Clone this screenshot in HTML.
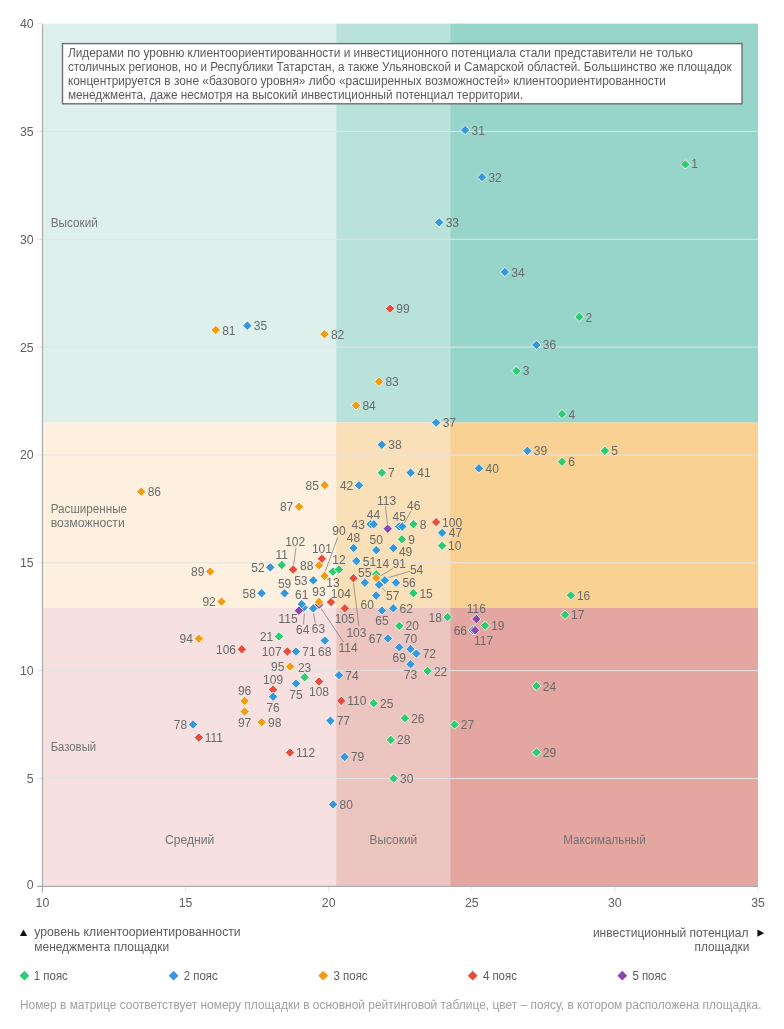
<!DOCTYPE html>
<html><head><meta charset="utf-8"><style>
html,body{margin:0;padding:0;background:#fff;width:784px;height:1029px;overflow:hidden}
svg{display:block;will-change:transform}
text{font-family:"Liberation Sans", sans-serif}
</style></head><body>
<svg width="784" height="1029" viewBox="0 0 784 1029">
<rect x="42.45" y="23.6" width="293.75" height="398.9" fill="#ddf0ec"/>
<rect x="336.2" y="23.6" width="114" height="398.9" fill="#b9e2da"/>
<rect x="450.2" y="23.6" width="307.8" height="398.9" fill="#97d4c9"/>
<rect x="42.45" y="422.5" width="293.75" height="185.3" fill="#fdf0df"/>
<rect x="336.2" y="422.5" width="114" height="185.3" fill="#fae0b8"/>
<rect x="450.2" y="422.5" width="307.8" height="185.3" fill="#f9d193"/>
<rect x="42.45" y="607.8" width="293.75" height="278.5" fill="#f6e0e0"/>
<rect x="336.2" y="607.8" width="114" height="278.5" fill="#ecc4c0"/>
<rect x="450.2" y="607.8" width="307.8" height="278.5" fill="#e3a6a0"/>
<line x1="42.45" x2="758" y1="778.46" y2="778.46" stroke="#e3e3e3" stroke-width="1"/>
<line x1="42.45" x2="758" y1="670.62" y2="670.62" stroke="#e3e3e3" stroke-width="1"/>
<line x1="42.45" x2="758" y1="562.79" y2="562.79" stroke="#e3e3e3" stroke-width="1"/>
<line x1="42.45" x2="758" y1="454.95" y2="454.95" stroke="#e3e3e3" stroke-width="1"/>
<line x1="42.45" x2="758" y1="347.11" y2="347.11" stroke="#e3e3e3" stroke-width="1"/>
<line x1="42.45" x2="758" y1="239.28" y2="239.28" stroke="#e3e3e3" stroke-width="1"/>
<line x1="42.45" x2="758" y1="131.44" y2="131.44" stroke="#e3e3e3" stroke-width="1"/>
<line x1="37" x2="42.45" y1="886.3" y2="886.3" stroke="#e3e3e3" stroke-width="1"/>
<text x="33.6" y="889.1" text-anchor="end" font-size="12.3" fill="#606060">0</text>
<line x1="37" x2="42.45" y1="778.46" y2="778.46" stroke="#e3e3e3" stroke-width="1"/>
<text x="33.6" y="782.86" text-anchor="end" font-size="12.3" fill="#606060">5</text>
<line x1="37" x2="42.45" y1="670.62" y2="670.62" stroke="#e3e3e3" stroke-width="1"/>
<text x="33.6" y="675.02" text-anchor="end" font-size="12.3" fill="#606060">10</text>
<line x1="37" x2="42.45" y1="562.79" y2="562.79" stroke="#e3e3e3" stroke-width="1"/>
<text x="33.6" y="567.19" text-anchor="end" font-size="12.3" fill="#606060">15</text>
<line x1="37" x2="42.45" y1="454.95" y2="454.95" stroke="#e3e3e3" stroke-width="1"/>
<text x="33.6" y="459.35" text-anchor="end" font-size="12.3" fill="#606060">20</text>
<line x1="37" x2="42.45" y1="347.11" y2="347.11" stroke="#e3e3e3" stroke-width="1"/>
<text x="33.6" y="351.51" text-anchor="end" font-size="12.3" fill="#606060">25</text>
<line x1="37" x2="42.45" y1="239.28" y2="239.28" stroke="#e3e3e3" stroke-width="1"/>
<text x="33.6" y="243.68" text-anchor="end" font-size="12.3" fill="#606060">30</text>
<line x1="37" x2="42.45" y1="131.44" y2="131.44" stroke="#e3e3e3" stroke-width="1"/>
<text x="33.6" y="135.84" text-anchor="end" font-size="12.3" fill="#606060">35</text>
<line x1="37" x2="42.45" y1="23.6" y2="23.6" stroke="#e3e3e3" stroke-width="1"/>
<text x="33.6" y="28" text-anchor="end" font-size="12.3" fill="#606060">40</text>
<line x1="42.45" x2="42.45" y1="886.3" y2="892.5" stroke="#e4e4e4" stroke-width="1"/>
<text x="42.45" y="907.2" text-anchor="middle" font-size="12.3" fill="#606060">10</text>
<line x1="185.56" x2="185.56" y1="886.3" y2="892.5" stroke="#e4e4e4" stroke-width="1"/>
<text x="185.56" y="907.2" text-anchor="middle" font-size="12.3" fill="#606060">15</text>
<line x1="328.67" x2="328.67" y1="886.3" y2="892.5" stroke="#e4e4e4" stroke-width="1"/>
<text x="328.67" y="907.2" text-anchor="middle" font-size="12.3" fill="#606060">20</text>
<line x1="471.78" x2="471.78" y1="886.3" y2="892.5" stroke="#e4e4e4" stroke-width="1"/>
<text x="471.78" y="907.2" text-anchor="middle" font-size="12.3" fill="#606060">25</text>
<line x1="614.89" x2="614.89" y1="886.3" y2="892.5" stroke="#e4e4e4" stroke-width="1"/>
<text x="614.89" y="907.2" text-anchor="middle" font-size="12.3" fill="#606060">30</text>
<line x1="758" x2="758" y1="886.3" y2="892.5" stroke="#e4e4e4" stroke-width="1"/>
<text x="758" y="907.2" text-anchor="middle" font-size="12.3" fill="#606060">35</text>
<line x1="42.45" x2="42.45" y1="24.2" y2="892.5" stroke="#adadad" stroke-width="1.25"/>
<line x1="37" x2="758" y1="886.3" y2="886.3" stroke="#adadad" stroke-width="1.25"/>
<text x="50.7" y="226.9" textLength="47.2" font-size="12.3" fill="#737373" lengthAdjust="spacingAndGlyphs">Высокий</text>
<text x="50.7" y="512.8" textLength="76.4" font-size="12.3" fill="#737373" lengthAdjust="spacingAndGlyphs">Расширенные</text>
<text x="50.7" y="526.6" textLength="74.1" font-size="12.3" fill="#737373" lengthAdjust="spacingAndGlyphs">возможности</text>
<text x="50.7" y="750.5" textLength="45.4" font-size="12.3" fill="#737373" lengthAdjust="spacingAndGlyphs">Базовый</text>
<text x="165.0" y="844.2" textLength="49.2" font-size="12.3" fill="#737373" lengthAdjust="spacingAndGlyphs">Средний</text>
<text x="369.5" y="844.2" textLength="47.7" font-size="12.3" fill="#737373" lengthAdjust="spacingAndGlyphs">Высокий</text>
<text x="563.3" y="844.2" textLength="82.4" font-size="12.3" fill="#737373" lengthAdjust="spacingAndGlyphs">Максимальный</text>
<rect x="62.5" y="43.6" width="679.5" height="60.2" fill="#fff" stroke="#6f6f6f" stroke-width="1.4"/>
<text x="67.9" y="56.5" textLength="624.9" lengthAdjust="spacingAndGlyphs" font-size="12.3" fill="#5a5a5a">Лидерами по уровню клиентоориентированности и инвестиционного потенциала стали представители не только</text>
<text x="67.9" y="70.67" textLength="663.7" lengthAdjust="spacingAndGlyphs" font-size="12.3" fill="#5a5a5a">столичных регионов, но и Республики Татарстан, а также Ульяновской и Самарской областей. Большинство же площадок</text>
<text x="67.9" y="84.84" textLength="598.0" lengthAdjust="spacingAndGlyphs" font-size="12.3" fill="#5a5a5a">концентрируется в зоне «базового уровня» либо «расширенных возможностей» клиентоориентированности</text>
<text x="67.9" y="99.01" textLength="455.3" lengthAdjust="spacingAndGlyphs" font-size="12.3" fill="#5a5a5a">менеджмента, даже несмотря на высокий инвестиционный потенциал территории.</text>
<line x1="385.6" y1="506.5" x2="387.4" y2="524.5" stroke="#777" stroke-width="0.7"/>
<line x1="411" y1="511" x2="404.3" y2="523.2" stroke="#777" stroke-width="0.7"/>
<line x1="296" y1="547.8" x2="293.6" y2="565" stroke="#777" stroke-width="0.7"/>
<line x1="325.4" y1="571.3" x2="337.6" y2="537.5" stroke="#777" stroke-width="0.7"/>
<line x1="353.5" y1="583.2" x2="358.9" y2="626" stroke="#777" stroke-width="0.7"/>
<line x1="380.5" y1="576" x2="392.8" y2="568.5" stroke="#777" stroke-width="0.7"/>
<line x1="388.5" y1="577.6" x2="410" y2="571.2" stroke="#777" stroke-width="0.7"/>
<line x1="382" y1="588" x2="385.6" y2="591.2" stroke="#777" stroke-width="0.7"/>
<line x1="321" y1="608.5" x2="343.5" y2="642" stroke="#777" stroke-width="0.7"/>
<line x1="304.4" y1="613.5" x2="303.5" y2="624.5" stroke="#777" stroke-width="0.7"/>
<line x1="313.5" y1="613.2" x2="315.4" y2="623.6" stroke="#777" stroke-width="0.7"/>
<polygon points="303.6,603.1 308.3,607.8 303.6,612.5 298.9,607.8" fill="#3498db" stroke="#fff" stroke-width="0.9" stroke-opacity="0.9"/>
<polygon points="370.6,519.5 375.3,524.2 370.6,528.9 365.9,524.2" fill="#3498db" stroke="#fff" stroke-width="0.9" stroke-opacity="0.9"/>
<polygon points="399.1,521.8 403.8,526.5 399.1,531.2 394.4,526.5" fill="#3498db" stroke="#fff" stroke-width="0.9" stroke-opacity="0.9"/>
<polygon points="376.2,569.5 380.9,574.2 376.2,578.9 371.5,574.2" fill="#2ecc71" stroke="#fff" stroke-width="0.9" stroke-opacity="0.9"/>
<polygon points="301.7,599.4 306.4,604.1 301.7,608.8 297,604.1" fill="#3498db" stroke="#fff" stroke-width="0.9" stroke-opacity="0.9"/>
<polygon points="472.8,625.5 477.5,630.2 472.8,634.9 468.1,630.2" fill="#3498db" stroke="#fff" stroke-width="0.9" stroke-opacity="0.9"/>
<polygon points="685.4,159.7 690.1,164.4 685.4,169.1 680.7,164.4" fill="#2ecc71" stroke="#fff" stroke-width="0.9" stroke-opacity="0.9"/>
<polygon points="579.2,312.3 583.9,317 579.2,321.7 574.5,317" fill="#2ecc71" stroke="#fff" stroke-width="0.9" stroke-opacity="0.9"/>
<polygon points="516.4,366.2 521.1,370.9 516.4,375.6 511.7,370.9" fill="#2ecc71" stroke="#fff" stroke-width="0.9" stroke-opacity="0.9"/>
<polygon points="562,409.3 566.7,414 562,418.7 557.3,414" fill="#2ecc71" stroke="#fff" stroke-width="0.9" stroke-opacity="0.9"/>
<polygon points="465.1,125.3 469.8,130 465.1,134.7 460.4,130" fill="#3498db" stroke="#fff" stroke-width="0.9" stroke-opacity="0.9"/>
<polygon points="482,172.4 486.7,177.1 482,181.8 477.3,177.1" fill="#3498db" stroke="#fff" stroke-width="0.9" stroke-opacity="0.9"/>
<polygon points="439.2,217.7 443.9,222.4 439.2,227.1 434.5,222.4" fill="#3498db" stroke="#fff" stroke-width="0.9" stroke-opacity="0.9"/>
<polygon points="504.9,267.3 509.6,272 504.9,276.7 500.2,272" fill="#3498db" stroke="#fff" stroke-width="0.9" stroke-opacity="0.9"/>
<polygon points="247.3,321 252,325.7 247.3,330.4 242.6,325.7" fill="#3498db" stroke="#fff" stroke-width="0.9" stroke-opacity="0.9"/>
<polygon points="536.3,340.2 541,344.9 536.3,349.6 531.6,344.9" fill="#3498db" stroke="#fff" stroke-width="0.9" stroke-opacity="0.9"/>
<polygon points="215.8,325.3 220.5,330 215.8,334.7 211.1,330" fill="#f39c12" stroke="#fff" stroke-width="0.9" stroke-opacity="0.9"/>
<polygon points="324.5,329.6 329.2,334.3 324.5,339 319.8,334.3" fill="#f39c12" stroke="#fff" stroke-width="0.9" stroke-opacity="0.9"/>
<polygon points="379,377 383.7,381.7 379,386.4 374.3,381.7" fill="#f39c12" stroke="#fff" stroke-width="0.9" stroke-opacity="0.9"/>
<polygon points="356,400.6 360.7,405.3 356,410 351.3,405.3" fill="#f39c12" stroke="#fff" stroke-width="0.9" stroke-opacity="0.9"/>
<polygon points="390,303.9 394.7,308.6 390,313.3 385.3,308.6" fill="#e74c3c" stroke="#fff" stroke-width="0.9" stroke-opacity="0.9"/>
<polygon points="436.2,417.9 440.9,422.6 436.2,427.3 431.5,422.6" fill="#3498db" stroke="#fff" stroke-width="0.9" stroke-opacity="0.9"/>
<polygon points="381.8,440 386.5,444.7 381.8,449.4 377.1,444.7" fill="#3498db" stroke="#fff" stroke-width="0.9" stroke-opacity="0.9"/>
<polygon points="527.4,446.1 532.1,450.8 527.4,455.5 522.7,450.8" fill="#3498db" stroke="#fff" stroke-width="0.9" stroke-opacity="0.9"/>
<polygon points="604.9,446.1 609.6,450.8 604.9,455.5 600.2,450.8" fill="#2ecc71" stroke="#fff" stroke-width="0.9" stroke-opacity="0.9"/>
<polygon points="562,457.1 566.7,461.8 562,466.5 557.3,461.8" fill="#2ecc71" stroke="#fff" stroke-width="0.9" stroke-opacity="0.9"/>
<polygon points="479,463.6 483.7,468.3 479,473 474.3,468.3" fill="#3498db" stroke="#fff" stroke-width="0.9" stroke-opacity="0.9"/>
<polygon points="381.8,468 386.5,472.7 381.8,477.4 377.1,472.7" fill="#2ecc71" stroke="#fff" stroke-width="0.9" stroke-opacity="0.9"/>
<polygon points="410.6,468 415.3,472.7 410.6,477.4 405.9,472.7" fill="#3498db" stroke="#fff" stroke-width="0.9" stroke-opacity="0.9"/>
<polygon points="359,480.6 363.7,485.3 359,490 354.3,485.3" fill="#3498db" stroke="#fff" stroke-width="0.9" stroke-opacity="0.9"/>
<polygon points="324.7,480.6 329.4,485.3 324.7,490 320,485.3" fill="#f39c12" stroke="#fff" stroke-width="0.9" stroke-opacity="0.9"/>
<polygon points="141.3,487 146,491.7 141.3,496.4 136.6,491.7" fill="#f39c12" stroke="#fff" stroke-width="0.9" stroke-opacity="0.9"/>
<polygon points="299,502 303.7,506.7 299,511.4 294.3,506.7" fill="#f39c12" stroke="#fff" stroke-width="0.9" stroke-opacity="0.9"/>
<polygon points="436.1,517.4 440.8,522.1 436.1,526.8 431.4,522.1" fill="#e74c3c" stroke="#fff" stroke-width="0.9" stroke-opacity="0.9"/>
<polygon points="442.1,528.2 446.8,532.9 442.1,537.6 437.4,532.9" fill="#3498db" stroke="#fff" stroke-width="0.9" stroke-opacity="0.9"/>
<polygon points="442.1,541 446.8,545.7 442.1,550.4 437.4,545.7" fill="#2ecc71" stroke="#fff" stroke-width="0.9" stroke-opacity="0.9"/>
<polygon points="413.4,519.5 418.1,524.2 413.4,528.9 408.7,524.2" fill="#2ecc71" stroke="#fff" stroke-width="0.9" stroke-opacity="0.9"/>
<polygon points="401.9,534.6 406.6,539.3 401.9,544 397.2,539.3" fill="#2ecc71" stroke="#fff" stroke-width="0.9" stroke-opacity="0.9"/>
<polygon points="373.8,519.5 378.5,524.2 373.8,528.9 369.1,524.2" fill="#3498db" stroke="#fff" stroke-width="0.9" stroke-opacity="0.9"/>
<polygon points="387.7,524 392.4,528.7 387.7,533.4 383,528.7" fill="#8e44ad" stroke="#fff" stroke-width="0.9" stroke-opacity="0.9"/>
<polygon points="402.3,521.8 407,526.5 402.3,531.2 397.6,526.5" fill="#3498db" stroke="#fff" stroke-width="0.9" stroke-opacity="0.9"/>
<polygon points="353.5,543.3 358.2,548 353.5,552.7 348.8,548" fill="#3498db" stroke="#fff" stroke-width="0.9" stroke-opacity="0.9"/>
<polygon points="376.2,545.4 380.9,550.1 376.2,554.8 371.5,550.1" fill="#3498db" stroke="#fff" stroke-width="0.9" stroke-opacity="0.9"/>
<polygon points="393.4,543.4 398.1,548.1 393.4,552.8 388.7,548.1" fill="#3498db" stroke="#fff" stroke-width="0.9" stroke-opacity="0.9"/>
<polygon points="356.3,556.3 361,561 356.3,565.7 351.6,561" fill="#3498db" stroke="#fff" stroke-width="0.9" stroke-opacity="0.9"/>
<polygon points="270.3,562.7 275,567.4 270.3,572.1 265.6,567.4" fill="#3498db" stroke="#fff" stroke-width="0.9" stroke-opacity="0.9"/>
<polygon points="281.8,560.3 286.5,565 281.8,569.7 277.1,565" fill="#2ecc71" stroke="#fff" stroke-width="0.9" stroke-opacity="0.9"/>
<polygon points="293.2,564.8 297.9,569.5 293.2,574.2 288.5,569.5" fill="#e74c3c" stroke="#fff" stroke-width="0.9" stroke-opacity="0.9"/>
<polygon points="321.9,554.1 326.6,558.8 321.9,563.5 317.2,558.8" fill="#e74c3c" stroke="#fff" stroke-width="0.9" stroke-opacity="0.9"/>
<polygon points="319.1,560.6 323.8,565.3 319.1,570 314.4,565.3" fill="#f39c12" stroke="#fff" stroke-width="0.9" stroke-opacity="0.9"/>
<polygon points="210.2,566.9 214.9,571.6 210.2,576.3 205.5,571.6" fill="#f39c12" stroke="#fff" stroke-width="0.9" stroke-opacity="0.9"/>
<polygon points="324.6,571.3 329.3,576 324.6,580.7 319.9,576" fill="#f39c12" stroke="#fff" stroke-width="0.9" stroke-opacity="0.9"/>
<polygon points="332.9,566.9 337.6,571.6 332.9,576.3 328.2,571.6" fill="#2ecc71" stroke="#fff" stroke-width="0.9" stroke-opacity="0.9"/>
<polygon points="338.9,564.9 343.6,569.6 338.9,574.3 334.2,569.6" fill="#2ecc71" stroke="#fff" stroke-width="0.9" stroke-opacity="0.9"/>
<polygon points="313.3,575.7 318,580.4 313.3,585.1 308.6,580.4" fill="#3498db" stroke="#fff" stroke-width="0.9" stroke-opacity="0.9"/>
<polygon points="353.4,573.5 358.1,578.2 353.4,582.9 348.7,578.2" fill="#e74c3c" stroke="#fff" stroke-width="0.9" stroke-opacity="0.9"/>
<polygon points="364.8,578 369.5,582.7 364.8,587.4 360.1,582.7" fill="#3498db" stroke="#fff" stroke-width="0.9" stroke-opacity="0.9"/>
<polygon points="376.2,573.2 380.9,577.9 376.2,582.6 371.5,577.9" fill="#f39c12" stroke="#fff" stroke-width="0.9" stroke-opacity="0.9"/>
<polygon points="384.8,575.6 389.5,580.3 384.8,585 380.1,580.3" fill="#3498db" stroke="#fff" stroke-width="0.9" stroke-opacity="0.9"/>
<polygon points="396,578 400.7,582.7 396,587.4 391.3,582.7" fill="#3498db" stroke="#fff" stroke-width="0.9" stroke-opacity="0.9"/>
<polygon points="379.1,580.1 383.8,584.8 379.1,589.5 374.4,584.8" fill="#3498db" stroke="#fff" stroke-width="0.9" stroke-opacity="0.9"/>
<polygon points="413.4,588.5 418.1,593.2 413.4,597.9 408.7,593.2" fill="#2ecc71" stroke="#fff" stroke-width="0.9" stroke-opacity="0.9"/>
<polygon points="261.6,588.6 266.3,593.3 261.6,598 256.9,593.3" fill="#3498db" stroke="#fff" stroke-width="0.9" stroke-opacity="0.9"/>
<polygon points="284.6,588.6 289.3,593.3 284.6,598 279.9,593.3" fill="#3498db" stroke="#fff" stroke-width="0.9" stroke-opacity="0.9"/>
<polygon points="376.2,590.8 380.9,595.5 376.2,600.2 371.5,595.5" fill="#3498db" stroke="#fff" stroke-width="0.9" stroke-opacity="0.9"/>
<polygon points="221.5,596.9 226.2,601.6 221.5,606.3 216.8,601.6" fill="#f39c12" stroke="#fff" stroke-width="0.9" stroke-opacity="0.9"/>
<polygon points="570.9,590.6 575.6,595.3 570.9,600 566.2,595.3" fill="#2ecc71" stroke="#fff" stroke-width="0.9" stroke-opacity="0.9"/>
<polygon points="344.7,603.7 349.4,608.4 344.7,613.1 340,608.4" fill="#e74c3c" stroke="#fff" stroke-width="0.9" stroke-opacity="0.9"/>
<polygon points="393.3,603.6 398,608.3 393.3,613 388.6,608.3" fill="#3498db" stroke="#fff" stroke-width="0.9" stroke-opacity="0.9"/>
<polygon points="382,605.8 386.7,610.5 382,615.2 377.3,610.5" fill="#3498db" stroke="#fff" stroke-width="0.9" stroke-opacity="0.9"/>
<polygon points="319,600.1 323.7,604.8 319,609.5 314.3,604.8" fill="#8e44ad" stroke="#fff" stroke-width="0.9" stroke-opacity="0.9"/>
<polygon points="319,597.2 323.7,601.9 319,606.6 314.3,601.9" fill="#f39c12" stroke="#fff" stroke-width="0.9" stroke-opacity="0.9"/>
<polygon points="331,597.4 335.7,602.1 331,606.8 326.3,602.1" fill="#e74c3c" stroke="#fff" stroke-width="0.9" stroke-opacity="0.9"/>
<polygon points="313.3,603.7 318,608.4 313.3,613.1 308.6,608.4" fill="#3498db" stroke="#fff" stroke-width="0.9" stroke-opacity="0.9"/>
<polygon points="298.9,606 303.6,610.7 298.9,615.4 294.2,610.7" fill="#8e44ad" stroke="#fff" stroke-width="0.9" stroke-opacity="0.9"/>
<polygon points="447.7,612.3 452.4,617 447.7,621.7 443,617" fill="#2ecc71" stroke="#fff" stroke-width="0.9" stroke-opacity="0.9"/>
<polygon points="476.3,614.3 481,619 476.3,623.7 471.6,619" fill="#8e44ad" stroke="#fff" stroke-width="0.9" stroke-opacity="0.9"/>
<polygon points="565.1,610.1 569.8,614.8 565.1,619.5 560.4,614.8" fill="#2ecc71" stroke="#fff" stroke-width="0.9" stroke-opacity="0.9"/>
<polygon points="485.2,620.9 489.9,625.6 485.2,630.3 480.5,625.6" fill="#2ecc71" stroke="#fff" stroke-width="0.9" stroke-opacity="0.9"/>
<polygon points="399.3,621.2 404,625.9 399.3,630.6 394.6,625.9" fill="#2ecc71" stroke="#fff" stroke-width="0.9" stroke-opacity="0.9"/>
<polygon points="475.1,625.5 479.8,630.2 475.1,634.9 470.4,630.2" fill="#8e44ad" stroke="#fff" stroke-width="0.9" stroke-opacity="0.9"/>
<polygon points="278.9,631.7 283.6,636.4 278.9,641.1 274.2,636.4" fill="#2ecc71" stroke="#fff" stroke-width="0.9" stroke-opacity="0.9"/>
<polygon points="198.8,633.9 203.5,638.6 198.8,643.3 194.1,638.6" fill="#f39c12" stroke="#fff" stroke-width="0.9" stroke-opacity="0.9"/>
<polygon points="387.9,633.7 392.6,638.4 387.9,643.1 383.2,638.4" fill="#3498db" stroke="#fff" stroke-width="0.9" stroke-opacity="0.9"/>
<polygon points="324.8,635.9 329.5,640.6 324.8,645.3 320.1,640.6" fill="#3498db" stroke="#fff" stroke-width="0.9" stroke-opacity="0.9"/>
<polygon points="241.8,644.6 246.5,649.3 241.8,654 237.1,649.3" fill="#e74c3c" stroke="#fff" stroke-width="0.9" stroke-opacity="0.9"/>
<polygon points="287.4,646.8 292.1,651.5 287.4,656.2 282.7,651.5" fill="#e74c3c" stroke="#fff" stroke-width="0.9" stroke-opacity="0.9"/>
<polygon points="296,646.9 300.7,651.6 296,656.3 291.3,651.6" fill="#3498db" stroke="#fff" stroke-width="0.9" stroke-opacity="0.9"/>
<polygon points="410.5,644.4 415.2,649.1 410.5,653.8 405.8,649.1" fill="#3498db" stroke="#fff" stroke-width="0.9" stroke-opacity="0.9"/>
<polygon points="399.3,642.6 404,647.3 399.3,652 394.6,647.3" fill="#3498db" stroke="#fff" stroke-width="0.9" stroke-opacity="0.9"/>
<polygon points="416.4,648.9 421.1,653.6 416.4,658.3 411.7,653.6" fill="#3498db" stroke="#fff" stroke-width="0.9" stroke-opacity="0.9"/>
<polygon points="410.5,659.6 415.2,664.3 410.5,669 405.8,664.3" fill="#3498db" stroke="#fff" stroke-width="0.9" stroke-opacity="0.9"/>
<polygon points="290.2,661.9 294.9,666.6 290.2,671.3 285.5,666.6" fill="#f39c12" stroke="#fff" stroke-width="0.9" stroke-opacity="0.9"/>
<polygon points="427.6,666.3 432.3,671 427.6,675.7 422.9,671" fill="#2ecc71" stroke="#fff" stroke-width="0.9" stroke-opacity="0.9"/>
<polygon points="339,670.5 343.7,675.2 339,679.9 334.3,675.2" fill="#3498db" stroke="#fff" stroke-width="0.9" stroke-opacity="0.9"/>
<polygon points="304.6,672.6 309.3,677.3 304.6,682 299.9,677.3" fill="#2ecc71" stroke="#fff" stroke-width="0.9" stroke-opacity="0.9"/>
<polygon points="319,676.8 323.7,681.5 319,686.2 314.3,681.5" fill="#e74c3c" stroke="#fff" stroke-width="0.9" stroke-opacity="0.9"/>
<polygon points="296,678.9 300.7,683.6 296,688.3 291.3,683.6" fill="#3498db" stroke="#fff" stroke-width="0.9" stroke-opacity="0.9"/>
<polygon points="536.5,681.3 541.2,686 536.5,690.7 531.8,686" fill="#2ecc71" stroke="#fff" stroke-width="0.9" stroke-opacity="0.9"/>
<polygon points="273.1,685 277.8,689.7 273.1,694.4 268.4,689.7" fill="#e74c3c" stroke="#fff" stroke-width="0.9" stroke-opacity="0.9"/>
<polygon points="273.1,692 277.8,696.7 273.1,701.4 268.4,696.7" fill="#3498db" stroke="#fff" stroke-width="0.9" stroke-opacity="0.9"/>
<polygon points="244.6,696.2 249.3,700.9 244.6,705.6 239.9,700.9" fill="#f39c12" stroke="#fff" stroke-width="0.9" stroke-opacity="0.9"/>
<polygon points="341.2,696.2 345.9,700.9 341.2,705.6 336.5,700.9" fill="#e74c3c" stroke="#fff" stroke-width="0.9" stroke-opacity="0.9"/>
<polygon points="373.7,698.5 378.4,703.2 373.7,707.9 369,703.2" fill="#2ecc71" stroke="#fff" stroke-width="0.9" stroke-opacity="0.9"/>
<polygon points="244.6,706.9 249.3,711.6 244.6,716.3 239.9,711.6" fill="#f39c12" stroke="#fff" stroke-width="0.9" stroke-opacity="0.9"/>
<polygon points="404.9,713.5 409.6,718.2 404.9,722.9 400.2,718.2" fill="#2ecc71" stroke="#fff" stroke-width="0.9" stroke-opacity="0.9"/>
<polygon points="330.4,716 335.1,720.7 330.4,725.4 325.7,720.7" fill="#3498db" stroke="#fff" stroke-width="0.9" stroke-opacity="0.9"/>
<polygon points="261.7,717.5 266.4,722.2 261.7,726.9 257,722.2" fill="#f39c12" stroke="#fff" stroke-width="0.9" stroke-opacity="0.9"/>
<polygon points="193,719.8 197.7,724.5 193,729.2 188.3,724.5" fill="#3498db" stroke="#fff" stroke-width="0.9" stroke-opacity="0.9"/>
<polygon points="454.5,719.9 459.2,724.6 454.5,729.3 449.8,724.6" fill="#2ecc71" stroke="#fff" stroke-width="0.9" stroke-opacity="0.9"/>
<polygon points="198.8,732.9 203.5,737.6 198.8,742.3 194.1,737.6" fill="#e74c3c" stroke="#fff" stroke-width="0.9" stroke-opacity="0.9"/>
<polygon points="390.8,735.2 395.5,739.9 390.8,744.6 386.1,739.9" fill="#2ecc71" stroke="#fff" stroke-width="0.9" stroke-opacity="0.9"/>
<polygon points="536.5,747.7 541.2,752.4 536.5,757.1 531.8,752.4" fill="#2ecc71" stroke="#fff" stroke-width="0.9" stroke-opacity="0.9"/>
<polygon points="290,747.9 294.7,752.6 290,757.3 285.3,752.6" fill="#e74c3c" stroke="#fff" stroke-width="0.9" stroke-opacity="0.9"/>
<polygon points="344.6,752.1 349.3,756.8 344.6,761.5 339.9,756.8" fill="#3498db" stroke="#fff" stroke-width="0.9" stroke-opacity="0.9"/>
<polygon points="393.6,773.8 398.3,778.5 393.6,783.2 388.9,778.5" fill="#2ecc71" stroke="#fff" stroke-width="0.9" stroke-opacity="0.9"/>
<polygon points="333.1,799.7 337.8,804.4 333.1,809.1 328.4,804.4" fill="#3498db" stroke="#fff" stroke-width="0.9" stroke-opacity="0.9"/>
<g font-size="12.0" fill="#6a6a6a">
<text x="691.2" y="168.1">1</text>
<text x="585.5" y="321.5">2</text>
<text x="522.84" y="375.4">3</text>
<text x="568.62" y="418.5">4</text>
<text x="471.54" y="134.5">31</text>
<text x="488.44" y="181.6">32</text>
<text x="445.64" y="226.9">33</text>
<text x="511.34" y="276.5">34</text>
<text x="253.74" y="330.2">35</text>
<text x="542.74" y="349.4">36</text>
<text x="222.18" y="334.5">81</text>
<text x="330.88" y="338.8">82</text>
<text x="385.38" y="386.2">83</text>
<text x="362.38" y="409.8">84</text>
<text x="396.34" y="313.1">99</text>
<text x="442.64" y="427.1">37</text>
<text x="388.24" y="449.2">38</text>
<text x="533.84" y="455.3">39</text>
<text x="611.32" y="455.3">5</text>
<text x="568.29" y="466.3">6</text>
<text x="485.62" y="472.8">40</text>
<text x="388.08" y="477.2">7</text>
<text x="417.22" y="477.2">41</text>
<text x="353.3" y="489.8" text-anchor="end">42</text>
<text x="318.9" y="489.8" text-anchor="end">85</text>
<text x="147.68" y="496.2">86</text>
<text x="293.3" y="511.2" text-anchor="end">87</text>
<text x="442.09" y="526.6">100</text>
<text x="448.72" y="537.4">47</text>
<text x="448.09" y="550.2">10</text>
<text x="419.78" y="528.7">8</text>
<text x="408.24" y="543.8">9</text>
<text x="364.83" y="528.7" text-anchor="end">43</text>
<text x="373.4" y="518.5" text-anchor="middle">44</text>
<text x="386.6" y="505.2" text-anchor="middle">113</text>
<text x="399.3" y="520.8" text-anchor="middle">45</text>
<text x="413.7" y="510" text-anchor="middle">46</text>
<text x="353.5" y="542.3" text-anchor="middle">48</text>
<text x="376.2" y="544.4" text-anchor="middle">50</text>
<text x="398.9" y="556.1">49</text>
<text x="362.72" y="565.5">51</text>
<text x="264.6" y="571.9" text-anchor="end">52</text>
<text x="281.8" y="559.3" text-anchor="middle">11</text>
<text x="295.2" y="545.9" text-anchor="middle">102</text>
<text x="321.9" y="553.1" text-anchor="middle">101</text>
<text x="313.32" y="569.8" text-anchor="end">88</text>
<text x="204.47" y="576.1" text-anchor="end">89</text>
<text x="339" y="535.1" text-anchor="middle">90</text>
<text x="332.9" y="586.5" text-anchor="middle">13</text>
<text x="338.9" y="563.9" text-anchor="middle">12</text>
<text x="307.53" y="584.9" text-anchor="end">53</text>
<text x="356.4" y="637.1" text-anchor="middle">103</text>
<text x="364.8" y="577" text-anchor="middle">55</text>
<text x="382.5" y="568.3" text-anchor="middle">14</text>
<text x="399.3" y="568.3" text-anchor="middle">91</text>
<text x="416.6" y="573.5" text-anchor="middle">54</text>
<text x="402.42" y="587.2">56</text>
<text x="392.7" y="599.9" text-anchor="middle">57</text>
<text x="419.39" y="597.7">15</text>
<text x="255.82" y="597.8" text-anchor="end">58</text>
<text x="284.6" y="587.6" text-anchor="middle">59</text>
<text x="367.3" y="609.1" text-anchor="middle">60</text>
<text x="215.8" y="606.1" text-anchor="end">92</text>
<text x="301.8" y="599.1" text-anchor="middle">61</text>
<text x="576.89" y="599.8">16</text>
<text x="344.7" y="623.3" text-anchor="middle">105</text>
<text x="399.59" y="612.8">62</text>
<text x="382" y="625.4" text-anchor="middle">65</text>
<text x="348.1" y="652.3" text-anchor="middle">114</text>
<text x="319" y="596.2" text-anchor="middle">93</text>
<text x="340.8" y="597.7" text-anchor="middle">104</text>
<text x="302.7" y="634.3" text-anchor="middle">64</text>
<text x="318.4" y="633.2" text-anchor="middle">63</text>
<text x="288" y="623.4" text-anchor="middle">115</text>
<text x="441.92" y="621.5" text-anchor="end">18</text>
<text x="476.3" y="613.3" text-anchor="middle">116</text>
<text x="571.09" y="619.3">17</text>
<text x="491.19" y="630.1">19</text>
<text x="405.6" y="630.4">20</text>
<text x="467.03" y="634.7" text-anchor="end">66</text>
<text x="483.6" y="644.8" text-anchor="middle">117</text>
<text x="273.19" y="640.9" text-anchor="end">21</text>
<text x="192.85" y="643.1" text-anchor="end">94</text>
<text x="382.2" y="642.9" text-anchor="end">67</text>
<text x="324.8" y="655.5" text-anchor="middle">68</text>
<text x="236.03" y="653.8" text-anchor="end">106</text>
<text x="281.7" y="656" text-anchor="end">107</text>
<text x="302.28" y="656.1">71</text>
<text x="410.5" y="643.4" text-anchor="middle">70</text>
<text x="399.3" y="662.2" text-anchor="middle">69</text>
<text x="422.68" y="658.1">72</text>
<text x="410.5" y="679.2" text-anchor="middle">73</text>
<text x="284.4" y="671.1" text-anchor="end">95</text>
<text x="433.9" y="675.5">22</text>
<text x="345.28" y="679.7">74</text>
<text x="304.6" y="671.6" text-anchor="middle">23</text>
<text x="319" y="696.4" text-anchor="middle">108</text>
<text x="296" y="698.5" text-anchor="middle">75</text>
<text x="542.8" y="690.5">24</text>
<text x="273.1" y="684" text-anchor="middle">109</text>
<text x="273.1" y="711.6" text-anchor="middle">76</text>
<text x="244.6" y="695.2" text-anchor="middle">96</text>
<text x="347.19" y="705.4">110</text>
<text x="380" y="707.7">25</text>
<text x="244.6" y="726.5" text-anchor="middle">97</text>
<text x="411.2" y="722.7">26</text>
<text x="336.68" y="725.2">77</text>
<text x="268.04" y="726.7">98</text>
<text x="187.22" y="729" text-anchor="end">78</text>
<text x="460.8" y="729.1">27</text>
<text x="204.79" y="742.1">111</text>
<text x="397.1" y="744.4">28</text>
<text x="542.8" y="756.9">29</text>
<text x="295.99" y="757.1">112</text>
<text x="350.88" y="761.3">79</text>
<text x="400.04" y="783">30</text>
<text x="339.48" y="808.9">80</text>
</g>
<polygon points="19.9,936.1 23.55,929.6 27.2,936.1" fill="#111"/>
<text x="34.3" y="936.2" textLength="206.4" lengthAdjust="spacingAndGlyphs" font-size="12.3" fill="#5c5c5c">уровень клиентоориентированности</text>
<text x="34.3" y="951" textLength="134.9" lengthAdjust="spacingAndGlyphs" font-size="12.3" fill="#5c5c5c">менеджмента площадки</text>
<text x="592.9" y="936.5" textLength="155.6" lengthAdjust="spacingAndGlyphs" font-size="12.3" fill="#5c5c5c">инвестиционный потенциал</text>
<text x="694.5" y="950.8" textLength="54.8" lengthAdjust="spacingAndGlyphs" font-size="12.3" fill="#5c5c5c">площадки</text>
<polygon points="757.4,929.6 764.2,933.2 757.4,936.8" fill="#111"/>
<polygon points="24.4,970.8 29.3,975.7 24.4,980.6 19.5,975.7" fill="#2ecc71" stroke="#fff" stroke-width="0" stroke-opacity="0.9"/>
<text x="33.8" y="979.9" textLength="34.0" lengthAdjust="spacingAndGlyphs" font-size="12.3" fill="#5c5c5c">1 пояс</text>
<polygon points="173.6,970.8 178.5,975.7 173.6,980.6 168.7,975.7" fill="#3498db" stroke="#fff" stroke-width="0" stroke-opacity="0.9"/>
<text x="183.7" y="979.9" textLength="34.0" lengthAdjust="spacingAndGlyphs" font-size="12.3" fill="#5c5c5c">2 пояс</text>
<polygon points="323.2,970.8 328.1,975.7 323.2,980.6 318.3,975.7" fill="#f39c12" stroke="#fff" stroke-width="0" stroke-opacity="0.9"/>
<text x="333.55" y="979.9" textLength="34.0" lengthAdjust="spacingAndGlyphs" font-size="12.3" fill="#5c5c5c">3 пояс</text>
<polygon points="472.7,970.8 477.6,975.7 472.7,980.6 467.8,975.7" fill="#e74c3c" stroke="#fff" stroke-width="0" stroke-opacity="0.9"/>
<text x="482.9" y="979.9" textLength="34.0" lengthAdjust="spacingAndGlyphs" font-size="12.3" fill="#5c5c5c">4 пояс</text>
<polygon points="622.3,970.8 627.2,975.7 622.3,980.6 617.4,975.7" fill="#8e44ad" stroke="#fff" stroke-width="0" stroke-opacity="0.9"/>
<text x="632.4" y="979.9" textLength="34.0" lengthAdjust="spacingAndGlyphs" font-size="12.3" fill="#5c5c5c">5 пояс</text>
<text x="19.9" y="1009" font-size="12" textLength="741.7" lengthAdjust="spacingAndGlyphs" fill="#a0a0a0">Номер в матрице соответствует номеру площадки в основной рейтинговой таблице, цвет – поясу, в котором расположена площадка.</text>
</svg></body></html>
